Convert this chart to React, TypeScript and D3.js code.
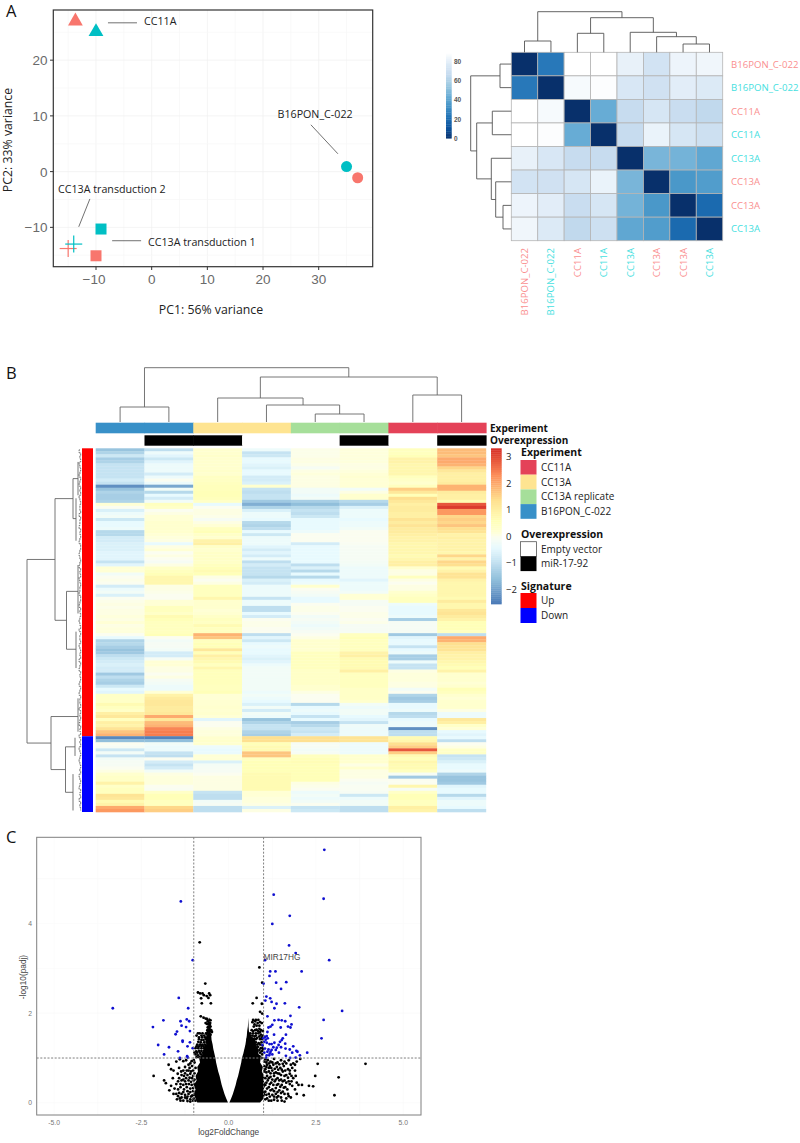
import React from "react";
import * as d3 from "d3";

/* ---------- Panel A: PCA ---------- */
const pcaPoints: [number, number, string, string][] = [
  [-13.7, 27, "triangle", "s"], [-10, 25.1, "triangle", "t"],
  [35, 0.9, "circle", "t"], [37, -1.1, "circle", "s"],
  [-9.1, -10.3, "square", "t"], [-10, -15.1, "square", "s"],
  [-15, -13.8, "plus", "s"], [-14, -13, "plus", "t"],
];
const pcaTicksX = [-10, 0, 10, 20, 30];
const pcaTicksY = [-10, 0, 10, 20];
const pcaNotes: [string, number, number][] = [
  ["CC11A", 144, 25], ["B16PON_C-022", 277.5, 118], ["CC13A transduction 2", 58, 193], ["CC13A transduction 1", 148, 245.5],
];
const pcaLeaders: [number, number, number, number][] = [
  [-7.85, 26.7, -2.64, 26.7], [28.6, 8.4, 33.45, 3.2], [-11.1, -4.9, -13.1, -9.9], [-7.1, -12.4, -1.9, -12.4],
];

/* ---------- Panel A: sample distances ---------- */
const corrLabels = ["B16PON_C-022", "B16PON_C-022", "CC11A", "CC11A", "CC13A", "CC13A", "CC13A", "CC13A"];
const corrRowGroup = ["s", "t", "s", "t", "t", "s", "s", "t"];
const corrMatrix = [
  [0, 25, 90, 90, 82, 73, 84, 85],
  [25, 0, 87, 89, 76, 72, 80, 78],
  [90, 87, 0, 44, 68, 75, 69, 66],
  [90, 89, 44, 0, 68, 83, 75, 71],
  [82, 76, 68, 68, 0, 48, 47, 42],
  [73, 72, 75, 83, 48, 0, 36, 38],
  [84, 80, 69, 75, 47, 36, 0, 20],
  [85, 78, 66, 71, 42, 38, 20, 0],
];
const corrTicks = [0, 20, 40, 60, 80];
const blues = ["#08306b", "#08519c", "#2171b5", "#4292c6", "#6baed6", "#9ecae1", "#c6dbef", "#deebf7", "#ffffff"];
type T = { h: number; kids?: (T | number)[]; from?: number; to?: number; at?: number };
const corrTree: T = { h: 40.6, kids: [{ h: 11.3, kids: [0, 1] }, { h: 34.6, kids: [{ h: 19, kids: [2, 3] }, { h: 20, kids: [4, { h: 15.6, kids: [5, { h: 8.3, kids: [6, 7] }] }] }] }] };

/* ---------- Panel B: heatmap ---------- */
const c0 = [
  -1.5,-1.2,-0.8,-1.3,-1.2,-0.9,-0.9,-0.9,-0.9,-0.9,
  -0.7,-0.9,-2.2,-1.5,-1.2,-1.3,-1.3,-1.2,0.2,0.0,
  -0.6,-0.3,-0.2,-0.8,-0.4,-0.4,-0.3,-1.1,-1.1,-0.7,
  -0.7,-0.6,-0.6,-0.6,-0.5,-0.5,-0.5,-0.9,-0.5,0.2,
  0.2,-0.2,0,0.05,0,-0.7,-0.3,-0.2,-0.6,0,
  0.05,0.1,0.05,0.1,0.1,0.15,0.1,0.2,0.1,0.15,
  0.15,0,-0.4,-1.2,-1.1,-1.3,-1.5,-1.4,-1,-0.8,
  -0.7,-0.6,-0.7,-0.7,-1.4,-1,-1.2,-1.3,-0.8,-0.4,
  -0.5,0.4,0.4,0.4,0.7,0.5,0.4,1,1.2,0.5,
  1,0.9,1.3,1.7,1.9,-2.3,-1.6,0,-0.1,-0.8,
  -0.2,-0.9,-0.2,-0.1,-0.1,0,0.1,0.3,0.4,0.4,
  0.9,0.4,0.5,0.5,1.3,1.2,0.7,0.9,2,2.2,
];
const c1 = [
  -1,-0.3,-0.5,-0.8,-0.5,-0.3,-0.3,-0.3,-0.7,-0.3,
  0,-0.3,-1.9,-0.2,-1.1,-0.4,-0.7,-0.2,0.5,0.4,
  0,0.1,0.2,0.2,0.3,0.3,0.3,0.3,0.2,0.15,
  0.1,-0.4,0.1,0.2,0,0.1,0,-0.1,0.1,0.4,
  0.5,0.6,0.8,0.8,0.8,0.1,0.1,0.05,0,0,
  0.2,0.2,0.5,0.5,0.4,0.7,0.6,0.5,0.5,0.5,
  0.5,0.6,0,-0.2,-0.1,-0.1,-0.2,-0.7,-0.7,-0.1,
  0.2,0.2,0.1,0.1,0,0.1,-0.1,-0.2,-0.3,-0.3,
  0.2,0.9,1.1,1.2,1.2,1.1,1.1,1.2,2,1.2,
  1.8,1.9,2.4,2.5,2.5,-2.4,-1.6,-0.2,-0.3,-0.3,
  -0.9,-1,0,-0.7,-0.9,-0.7,-0.2,0.1,0.15,0.15,
  0.15,0,-0.05,0.4,0.6,0.6,0.5,0.5,1.5,1.6,
];
const c2 = [
  0.3,0.3,0.35,0.3,0.3,0.3,0.3,0.35,0.3,0.45,
  0.45,0.5,0.55,0.55,0.6,0.6,0.55,0.4,-0.4,0,
  0.1,0.1,0.05,-0.1,0.1,0.2,0.5,0.6,0.4,0.3,
  0.9,1,0.4,0.3,0.4,0.4,0.4,0.4,0.5,0.6,
  0.7,0.6,0.1,0,0.1,0.5,0.5,0.5,0.5,0.8,
  0.3,0.3,0.3,0.2,0.25,0.4,0.5,0.45,0.7,0.5,
  0.5,1.9,1.7,0.5,0.6,0.6,1.2,0.6,1,0.8,
  0.7,0.5,0.8,0.55,0.55,0.55,0.55,0.55,0.5,0.5,
  0.6,0.2,0.2,0.25,0.25,0.3,0.25,0.3,0.2,-0.5,
  0,0,0.1,0.15,0.15,0.3,0.35,0.3,-0.3,-0.4,
  -0.35,0.2,0.2,-0.6,-0.15,-0.1,-0.1,0,0.1,0.1,
  0.1,0.1,0.1,-0.9,-1,-1,-0.2,-0.1,-1,-1,
];
const c3 = [
  -0.3,-0.9,-0.8,-0.4,-0.4,-0.5,-0.6,-0.4,-0.4,-0.7,
  -0.7,-0.6,0.3,-0.9,-1,-0.9,-0.9,-1.4,-1.8,-1.2,
  -0.6,-0.3,-0.3,-0.4,-1.1,-1.2,-1,-0.4,-0.8,-0.3,
  -0.3,-0.3,-0.5,-0.7,-0.5,-0.7,-0.3,-1,-0.7,-0.9,
  -0.9,-0.9,-1.1,-0.6,-0.7,-0.3,-0.3,-0.3,-0.3,-0.9,
  -0.3,-0.3,-1,-1,-0.4,-0.7,0,0.05,0.05,0,
  0,-1,-0.5,-0.8,-0.4,-0.3,-0.4,-0.4,-0.5,-0.6,
  -0.5,-0.3,-0.2,-0.2,-0.2,-0.2,-0.2,-0.2,-0.2,-0.2,
  -0.3,-0.2,-0.3,-0.4,-0.6,-0.2,-0.7,-0.2,-0.3,-1.5,
  -1.2,-0.9,-0.9,-1.2,-1.3,1.4,1.4,0.6,0.7,0.7,
  1.7,1.7,0.5,0.6,0.6,0.6,0.6,0.7,0.7,0.7,
  0.7,0.7,0.7,0.2,0.2,0.15,0.15,0.1,-0.6,0.1,
];
const c4 = [
  0.05,0.05,0.05,0.1,0.1,0.05,-0.1,0.1,0.15,0.1,
  0.1,0.1,0.1,-0.2,-0.2,-0.3,-0.2,-1.3,-1.6,-1.1,
  -0.9,-1,-0.8,-0.4,-0.4,-0.4,-0.4,-0.3,0,0,
  0,-0.7,-0.4,-0.4,-0.4,-0.4,-0.4,-0.4,-1,-0.6,
  -1.1,-0.4,-1.1,-0.4,-0.3,0.3,0,-0.1,-0.2,-0.4,
  -0.4,0,0.05,0.05,0,-0.2,-0.1,-0.2,-0.3,-0.2,
  -0.1,0,0.1,0.3,0.3,0.3,0.25,0.5,0.5,0.5,
  0.5,0.5,0.5,0.4,0.4,0.4,0.4,0.4,0.3,0.3,
  0.1,0,0,0,-1.1,-0.4,-0.3,-0.4,-0.9,-0.4,
  -1.3,-1.1,-0.8,-0.9,-0.7,1.4,1.4,-0.1,-0.1,-0.2,
  -0.1,0.5,0.6,0.65,0.6,0.6,0.6,0.6,0.6,0.6,
  0.1,0.05,0,-0.3,-0.2,-0.3,-0.2,0,-0.9,-0.8,
];
const c5 = [
  0.15,0.15,0.15,0.15,0.15,0.1,0.1,0.15,0.2,0.25,
  0.2,0.2,0.2,-0.2,0.1,0.3,0.3,-1.1,-1.3,-0.6,
  -0.3,-0.3,-0.3,-0.4,-0.3,-0.3,-0.2,0,0,0,
  0,-0.05,-0.1,-0.1,-0.1,-0.1,-0.1,-0.15,-0.2,-0.3,
  -0.3,-0.3,-0.3,-0.5,-0.3,-0.3,-0.3,-0.2,0.2,0.2,
  -0.1,-0.1,0,0,0.05,0.05,0,0.05,-0.1,-0.1,
  -0.1,0.5,0.6,0.5,0.5,0.5,0.5,0.9,1,0.7,
  0.7,0.7,0.7,1,0.5,0.5,0.5,0.5,0.5,0.4,
  0.4,0.4,0.4,0.3,-0.2,-0.3,-0.2,-0.2,-0.4,-0.5,
  -0.9,-0.25,-0.3,-0.3,-0.3,1.3,1.3,-0.3,-0.3,-0.3,
  -0.3,0.3,0.3,0.3,0.1,0.3,0.1,0.1,0.1,0,
  -0.1,-0.05,-0.05,-0.1,-0.8,-0.3,-0.2,-0.2,-1,-1,
];
const c6 = [
  0.5,0.5,0.6,0.9,0.9,0.8,0.8,0.8,0.8,0.5,
  0.4,0.3,0.5,1.6,1.2,0.6,1.4,1.2,1,1.1,
  1.1,1,1,1.3,1.1,1.3,1.1,1.1,1,0.9,
  0.9,0.8,0.8,0.8,0.8,0.7,0.8,1,1,0.3,
  0.1,0.1,0.5,0.1,0,0.1,0.1,0.3,0.4,0.5,
  0.5,-0.3,-0.4,-0.4,-0.4,-0.3,-1.3,-0.1,-0.1,-0.1,
  -0.1,-1.4,-0.5,-0.4,-0.4,-0.9,-0.4,-0.3,-1.3,-1.3,
  -0.3,-0.9,-0.9,0.1,0.15,0.15,0.15,0.1,0.1,-0.2,
  0,-1.2,-1.4,-1.3,-0.4,-0.4,-0.3,-1.1,-1,-0.4,
  -0.3,-0.3,-2.2,-1,-1,0.7,0.8,1.4,1.6,2.9,
  1.6,0.7,0.6,0.8,0.7,0.7,0.5,-0.1,-1.4,0,
  0,0.8,-0.1,0.4,0.6,0.6,0.5,0.5,1,0.9,
];
const c7 = [
  1.8,1.8,1.7,2,2,1.9,1.5,1.2,1,1,
  1,1.1,1.9,1.9,1.1,1,1,0.7,2.9,3.2,
  2.2,2.2,1.5,1.6,1.5,1.7,1.4,1.3,0.9,1,
  0.9,0.9,0.9,0.9,0.8,1.5,0.9,1.5,1.4,0.7,
  0.9,1.3,1.3,0.9,0.8,0.8,0.8,0.8,0.8,0.7,
  1.1,0.8,0.8,1.2,1.3,1.1,0.9,0.6,0.6,0.6,
  0.5,-1,2,1.9,1.4,1.3,1.3,1,0.9,0.9,
  0.8,0.7,0.6,0.9,0.3,0.3,0.3,0.2,0.3,0.6,
  0.5,0.3,0.2,0.3,0.3,0.3,0.1,-0.3,-0.3,1.2,
  1,0.4,0.2,-0.4,-0.5,-0.4,-1,0,0.1,0.4,
  0.4,-0.9,-0.8,-0.6,-0.4,-0.4,-0.3,-1.2,-1.5,-1.5,
  -1.4,-0.5,-0.4,-0.4,-1.1,-0.5,-0.3,-0.3,-0.4,-1,
];
const heatColumns = [c0, c1, c2, c3, c4, c5, c6, c7];
const heatExperiment = ["B16PON_C-022", "B16PON_C-022", "CC13A", "CC13A", "CC13A replicate", "CC13A replicate", "CC11A", "CC11A"];
const heatOverexpression = ["Empty vector", "miR-17-92", "miR-17-92", "Empty vector", "Empty vector", "miR-17-92", "Empty vector", "miR-17-92"];
const experimentNames = ["CC11A", "CC13A", "CC13A replicate", "B16PON_C-022"];
const experimentColors = ["#e44258", "#fee491", "#a6df9a", "#3890c8"];
const overNames = ["Empty vector", "miR-17-92"];
const overColors = ["#ffffff", "#000000"];
const signatureNames = ["Up", "Down"];
const signatureColors = ["#ff0000", "#0000ff"];
const signatureRowCounts = [95, 25];
const heatStops = [-2.55, -1.6, -0.9, -0.4, 0, 0.2, 0.6, 1.4, 2.33, 3.32];
const heatColors = ["#4575b4", "#91bfdb", "#c5e3f2", "#e8fafe", "#fbfdf0", "#ffffd5", "#ffffb8", "#fee090", "#fc8d59", "#d73027"];
const heatTicks = [-2, -1, 0, 1, 2, 3];
const colTree: T = { h: 54.3, kids: [{ h: 15, kids: [0, 1] }, { h: 45, kids: [{ h: 24, kids: [2, { h: 17, kids: [3, { h: 8, kids: [4, 5] }] }] }, { h: 27, kids: [6, 7] }] }] };
const rowTree: T = { h: 54, kids: [
  { h: 26, kids: [
    { h: 8, kids: [{ h: 3, from: 4, to: 15, at: 9.5 }, { h: 5, from: 16, to: 30, at: 22.7 }] },
    { h: 14.5, kids: [{ h: 3, from: 38, to: 54, at: 46.7 }, { h: 5, from: 60, to: 72, at: 65.8 }] },
  ] },
  { h: 30, kids: [
    { h: 3, from: 82, to: 93, at: 88 },
    { h: 15.5, kids: [{ h: 6, from: 95, to: 101, at: 98 }, { h: 8, from: 107, to: 119, at: 113 }] },
  ] },
] };
const rowStubs = [
  2,3,1,2,1,3,2,1,2,3,1,2,3,1,2,1,3,2,1,2,
  2,1,3,1,2,2,3,1,2,1,2,3,1,1,2,3,2,1,2,3,
  1,2,1,3,2,1,2,2,3,1,1,2,3,1,2,1,2,3,2,1,
  3,1,2,2,1,3,2,1,2,1,3,1,2,3,1,2,1,2,3,1,
  2,3,1,2,2,1,3,1,2,1,2,3,1,2,1,3,1,2,1,3,
  2,1,2,3,2,1,2,1,3,2,1,2,3,1,2,1,3,1,2,1,
];

/* ---------- Panel C: volcano ---------- */
const blueX = [
  2.74,1.29,2.72,-1.37,1.75,1.25,1.73,1.92,2.88,-1.03,1.04,2.09,1.19,1.34,1.17,1.0,1.36,1.65,1.5,-1.43,1.08,1.19,1.05,1.23,1.37,1.61,-1.16,-3.32,2.02,1.31,3.25,1.11,1.77,2.72,-1.87,-1.2,-1.13,-1.38,1.31,1.43,1.52,1.62,1.8,-2.17,-1.35,-1.22,1.77,1.14,1.2,1.49,1.25,1.7,-1.48,-1.11,-1.52,1.11,1.3,1.64,2.66,-1.32,-1.32,-1.11,-2.02,-1.71,-1.18,-1.03,-1.45,-1.85,-1.4,-1.19,-1.17,
  1.04,1.09,0.99,1.06,1.12,1.02,1.09,1.17,1.23,1.31,0.97,1.47,1.55,1.52,1.62,1.43,1.38,1.85,1.5,1.63,1.75,1.94,1.97,2.25,2.04,1.04,1.14,1.23,1.11,1.18,1.09,1.16,1.25,1.02,1.44,1.64,1.76,1.92,1.07,1.2,1.28,1.35,1.82,
];
const blueY = [
  5.64,4.64,4.55,4.49,4.17,3.99,3.51,3.34,3.18,3.18,3.18,2.93,2.93,2.93,2.83,2.66,2.68,2.69,2.54,2.34,2.37,2.33,2.28,2.25,2.21,2.22,2.11,2.11,2.13,2.11,2.05,1.93,1.94,1.85,1.84,1.86,1.82,1.82,1.84,1.85,1.84,1.82,1.75,1.69,1.72,1.69,1.68,1.68,1.7,1.68,1.74,1.7,1.59,1.6,1.53,1.58,1.52,1.52,1.44,1.39,1.36,1.35,1.29,1.24,1.26,1.22,1.15,1.08,1.0,1.04,1.01,
  1.47,1.49,1.44,1.41,1.44,1.36,1.34,1.31,1.31,1.34,1.29,1.36,1.44,1.4,1.32,1.29,1.23,1.26,1.24,1.21,1.19,1.16,1.14,1.12,1.06,1.21,1.19,1.18,1.14,1.1,1.06,1.06,1.08,1.12,1.12,1.05,1.0,1.01,1.01,1.14,1.24,1.18,1.12,
];
const blackPairs = [
  -0.83,3.58, 0.88,3.02, -0.67,2.66, 0.96,2.68, -0.88,2.46, -0.82,2.44, -0.75,2.44, -0.71,2.4, -0.63,2.38, -0.56,2.44, -0.53,2.4, -0.79,2.33, -0.58,2.34, -0.77,2.22, -0.51,2.22, 0.8,2.34, 0.95,2.21, 0.69,2.22, 0.9,2.03, 0.96,1.99,
  -0.8,1.93, -0.72,1.9, -0.66,1.88, -0.62,1.87, -0.55,1.85, -0.52,1.84, -0.6,1.82, -0.56,1.78, -0.54,1.74, -0.58,1.7, -0.52,1.7, -0.55,1.65, -0.5,1.62, -0.54,1.6, -0.48,1.58, -0.6,1.58, -0.65,1.55, -0.75,1.55, -0.83,1.55, -0.88,1.55, -0.92,1.5, -0.78,1.5, -0.7,1.5, -0.6,1.5, -0.85,1.42, -0.78,1.4, -0.72,1.4, -0.65,1.42, -0.58,1.42, -0.9,1.3, -0.82,1.3, -0.75,1.3, -0.68,1.3, -0.6,1.32, -0.95,1.22, -0.87,1.22, -0.78,1.22, -0.7,1.22, -0.62,1.22, -0.98,1.12, -0.9,1.12, -0.82,1.12, -0.74,1.12, -0.92,1.02, -0.84,1.02, -0.76,1.02, -0.68,1.08,
  -1.0,0.95, -1.1,0.88, -1.22,0.95, -1.3,0.93, -1.4,0.97, -1.5,0.92, -1.72,0.85, -1.65,0.75, -1.58,0.72, -1.42,0.78, -1.25,0.8, -1.2,0.72, -1.12,0.78, -1.05,0.82, -1.35,0.62, -1.28,0.6, -1.18,0.62, -1.1,0.65, -1.02,0.6, -1.42,0.55, -1.6,0.55, -2.15,0.6, -1.85,0.5, -1.8,0.44, -1.45,0.48, -1.35,0.5, -1.25,0.48, -1.15,0.5, -1.08,0.47, -1.0,0.5, -1.65,0.38, -1.55,0.32, -1.45,0.3, -1.38,0.35, -1.28,0.3, -1.2,0.35, -1.1,0.32, -1.02,0.33, -1.7,0.28, -1.35,0.2, -1.25,0.18, -1.15,0.2, -1.05,0.16, -1.4,0.1, -1.3,0.05, -1.2,0.1, -1.1,0.08, -1.0,0.1, -0.95,0.05,
  0.7,1.85, 0.78,1.85, 0.85,1.85, 0.68,1.8, 0.9,1.8, 0.95,1.78, 0.8,1.72, 0.72,1.7, 0.88,1.65, 0.8,1.63, 0.93,1.62, 0.98,1.6, 0.7,1.6, 0.62,1.55, 0.7,1.55, 0.78,1.55, 0.85,1.55, 0.92,1.52, 0.98,1.5, 0.58,1.45, 0.65,1.45, 0.74,1.48, 0.82,1.45, 0.9,1.42, 0.96,1.42, 0.55,1.35, 0.62,1.35, 0.7,1.38, 0.78,1.35, 0.86,1.33, 0.94,1.35, 0.53,1.27, 0.6,1.25, 0.68,1.28, 0.76,1.27, 0.84,1.25, 0.92,1.22, 0.98,1.18, 0.5,1.18, 0.58,1.18, 0.66,1.16, 0.74,1.18, 0.82,1.15, 0.9,1.12, 0.96,1.08, 0.88,1.04, 0.94,1.0, 0.8,1.05,
  1.05,0.97, 1.12,0.95, 1.2,0.92, 1.3,0.98, 1.4,0.9, 1.5,0.95, 1.6,0.92, 1.72,0.95, 1.85,0.88, 1.95,0.92, 2.05,0.98, 1.1,0.85, 1.18,0.82, 1.28,0.85, 1.38,0.8, 1.48,0.78, 1.58,0.82, 1.7,0.75, 1.82,0.78, 1.9,0.72, 1.05,0.75, 1.15,0.7, 1.25,0.72, 1.35,0.68, 1.45,0.65, 1.55,0.7, 1.65,0.62, 1.75,0.65, 1.85,0.55, 1.92,0.6, 1.1,0.6, 1.2,0.58, 1.3,0.6, 1.4,0.55, 1.5,0.52, 1.6,0.5, 1.72,0.48, 1.12,0.5, 1.22,0.45, 1.32,0.48, 1.42,0.42, 1.52,0.4, 1.62,0.35, 1.75,0.42, 1.82,0.38, 1.9,0.3, 2.0,0.4, 1.05,0.4, 1.15,0.35, 1.25,0.3, 1.35,0.33, 1.45,0.28, 1.55,0.25, 1.05,0.25, 1.15,0.2, 1.25,0.18, 1.35,0.2, 1.42,0.15, 1.65,0.1, 1.72,0.15, 1.78,0.12, 1.6,0.03, 1.22,0.05, 1.1,0.1, 2.15,0.17, 1.95,0.2,
  3.92,0.87, 3.15,0.57, 3.03,0.17, 2.55,0.87, 2.48,0.6, 2.3,0.38, 2.42,0.37, 2.1,0.4,
  -0.98,0.9, -1.06,0.93, -1.15,0.85, -0.95,0.78, -1.02,0.72, -1.08,0.7, -0.98,0.66, -1.15,0.72, -1.3,0.72, -1.36,0.7, -1.46,0.65, -1.25,0.66, -0.98,0.52, -1.05,0.55, -1.12,0.56, -1.22,0.55, -1.3,0.52, -1.5,0.42, -1.38,0.42, -1.3,0.4, -1.22,0.42, -1.14,0.42, -1.06,0.4, -0.98,0.42, -1.02,0.26, -1.1,0.24, -1.18,0.26, -1.3,0.24, -1.42,0.22, -1.5,0.2, -1.58,0.2, -1.0,0.18, -1.08,0.14, -1.18,0.14, -1.25,0.12, -1.35,0.12, -1.45,0.15, -1.02,0.05, -1.1,0.03, -1.18,0.04, -1.38,0.05, -1.48,0.08,
  -0.95,1.08, -0.88,1.06, -0.8,1.08, -0.72,1.04, -0.93,1.15, -0.85,1.16, -0.78,1.16, -0.7,1.16, -0.66,1.18, -0.92,1.26, -0.85,1.26, -0.78,1.27, -0.72,1.26, -0.65,1.27, -0.87,1.36, -0.8,1.35, -0.7,1.35, -0.63,1.36, -0.56,1.36, -0.85,1.46, -0.76,1.46, -0.68,1.46, -0.62,1.46, -0.56,1.46, -0.63,1.54, -0.57,1.54, -0.52,1.52, -0.61,1.62, -0.57,1.62, -0.6,1.68, -0.55,1.7, -0.58,1.76, -0.53,1.78, -0.62,1.76, -0.66,1.78,
  0.78,1.42, 0.72,1.42, 0.68,1.42, 0.6,1.4, 0.55,1.42, 0.58,1.32, 0.66,1.32, 0.74,1.32, 0.82,1.3, 0.9,1.3, 0.97,1.28, 0.56,1.22, 0.64,1.22, 0.72,1.22, 0.8,1.2, 0.88,1.18, 0.95,1.15, 0.98,1.22, 0.62,1.5, 0.68,1.5, 0.78,1.5, 0.88,1.48, 0.95,1.46, 0.66,1.62, 0.76,1.62, 0.84,1.6, 0.9,1.58, 0.74,1.75, 0.83,1.78, 0.88,1.72, 0.76,1.82,
  1.02,0.92, 1.08,0.9, 1.16,0.88, 1.25,0.9, 1.35,0.88, 1.45,0.86, 1.55,0.87, 1.65,0.88, 1.78,0.85, 1.9,0.85, 1.02,0.82, 1.08,0.8, 1.15,0.78, 1.22,0.78, 1.32,0.76, 1.42,0.74, 1.52,0.74, 1.62,0.72, 1.75,0.72, 1.02,0.7, 1.08,0.68, 1.2,0.66, 1.3,0.66, 1.4,0.66, 1.5,0.62, 1.6,0.6, 1.7,0.56, 1.8,0.6, 1.05,0.55, 1.15,0.55, 1.25,0.52, 1.35,0.52, 1.45,0.5, 1.55,0.48, 1.65,0.45, 1.8,0.48, 1.95,0.45, 1.08,0.45, 1.18,0.42, 1.28,0.4, 1.38,0.4, 1.48,0.36, 1.58,0.34, 1.68,0.3, 1.1,0.32, 1.2,0.28, 1.3,0.26, 1.4,0.24, 1.5,0.22, 1.6,0.2, 1.7,0.2, 1.08,0.18, 1.18,0.14, 1.3,0.14, 1.38,0.12, 1.5,0.12, 1.05,0.08, 1.15,0.05, 1.3,0.07, 1.4,0.05, 1.52,0.05,
];
/* dense cores of the volcano, read band by band: y, inner x, outer x on each wing */
const coreY = [0.01, 0.1, 0.2, 0.3, 0.4, 0.5, 0.6, 0.7, 0.8, 0.9, 1.0, 1.1, 1.2, 1.3, 1.4, 1.5, 1.6, 1.7, 1.8, 1.9];
const coreLeftInner = [-0.02, -0.07, -0.12, -0.16, -0.2, -0.23, -0.26, -0.3, -0.33, -0.36, -0.38, -0.41, -0.44, -0.46, -0.49, -0.5, -0.52, -0.53, -0.54, -0.55];
const coreLeftOuter = [-0.9, -0.95, -1.0, -0.95, -1.0, -0.92, -0.95, -0.88, -0.9, -0.82, -0.85, -0.74, -0.72, -0.64, -0.66, -0.6, -0.58, -0.57, -0.56, -0.56];
const coreRightInner = [0.02, 0.07, 0.12, 0.16, 0.2, 0.23, 0.27, 0.3, 0.33, 0.36, 0.38, 0.42, 0.45, 0.48, 0.5, 0.52, 0.53, 0.55, 0.56, 0.57];
const coreRightOuter = [0.9, 1.0, 1.05, 1.0, 1.06, 1.0, 1.02, 0.95, 0.98, 0.9, 0.92, 0.85, 0.84, 0.78, 0.76, 0.62, 0.58, 0.57, 0.57, 0.57];
const volTicksX = [-5, -2.5, 0, 2.5, 5];
const volTicksY = [0, 2, 4];
const volThresholds = { fc: [-1, 1], padj: [1] };

/* ---------- helpers ---------- */
function treePath(root: T, pos: (i: number) => number, seg: (h: number, p: number, h2: number, p2: number, c: d3.Path) => void) {
  const c = d3.path();
  const walk = (n: T | number): [number, number] => {
    if (typeof n === "number") return [pos(n), 0];
    if (n.kids) {
      const res = n.kids.map(walk);
      const ps = res.map((r) => r[0]);
      seg(n.h, ps[0], n.h, ps[ps.length - 1], c);
      res.forEach((r) => seg(n.h, r[0], r[1], r[0], c));
      return [d3.mean(ps) as number, n.h];
    }
    seg(n.h, pos(n.from as number), n.h, pos(n.to as number), c);
    return [pos(n.at as number), n.h];
  };
  walk(root);
  return c.toString();
}

const note = "'Open Sans', sans-serif";
const sansAxis = "'Liberation Sans', Arial, sans-serif";
const salmon = "#f8766d";
const teal = "#00bfc4";
const labelColor: Record<string, string> = { s: "#fa8f8f", t: "#45e0e0" };

export default function App() {
  /* PCA */
  const px = d3.scaleLinear().domain([-17.67, 39.7]).range([53.3, 372.7]);
  const py = d3.scaleLinear().domain([-17.06, 29]).range([266.7, 10]);
  const sym = (t: string) =>
    t === "triangle"
      ? d3.symbol(d3.symbolTriangle, 95)()
      : t === "circle"
      ? d3.symbol(d3.symbolCircle, 95)()
      : d3.symbol(d3.symbolSquare, 121)();

  /* correlation */
  const cx = d3.scaleBand<number>().domain(d3.range(8)).range([511.3, 722.7]);
  const cy = d3.scaleBand<number>().domain(d3.range(8)).range([52.3, 240.7]);
  const cColor = d3.scaleLinear<string>().domain(blues.map((_, i) => (i * 90) / 8)).range(blues);
  const cbar = d3.scaleLinear().domain([0, 90]).range([138.3, 52]);
  const corrTop = treePath(corrTree, (i) => (cx(i) as number) + cx.bandwidth() / 2, (h, p, h2, p2, c) => {
    c.moveTo(p, 52.3 - h); c.lineTo(p2, 52.3 - h2);
  });
  const corrLeft = treePath(corrTree, (i) => (cy(i) as number) + cy.bandwidth() / 2, (h, p, h2, p2, c) => {
    c.moveTo(511.3 - h, p); c.lineTo(511.3 - h2, p2);
  });

  /* heatmap */
  const hx = d3.scaleBand<number>().domain(d3.range(8)).range([95.7, 486]);
  const hy = d3.scaleBand<number>().domain(d3.range(120)).range([448.3, 812]);
  const hColor = d3.scaleLinear<string>().domain(heatStops).range(heatColors);
  const hBar = d3.scaleLinear().domain([3, -2]).range([456.7, 589.3]);
  const expColor = d3.scaleOrdinal<string, string>().domain(experimentNames).range(experimentColors);
  const ovColor = d3.scaleOrdinal<string, string>().domain(overNames).range(overColors);
  const colPath = treePath(colTree, (i) => (hx(i) as number) + hx.bandwidth() / 2, (h, p, h2, p2, c) => {
    c.moveTo(p, 422 - h); c.lineTo(p2, 422 - h2);
  });
  const rowMid = (r: number) => (hy(0) as number) + (r + 0.5) * hy.step();
  const rowPath = treePath(rowTree, (i) => rowMid(i), (h, p, h2, p2, c) => {
    c.moveTo(81 - h, p); c.lineTo(81 - h2, p2);
  });
  const stubLine = d3.line<number>().x((d) => 81.5 - d * 0.8).y((_, i) => rowMid(i)).curve(d3.curveStepAfter)(rowStubs) as string;

  /* volcano */
  const vx = d3.scaleLinear().domain([-5.5, 5.51]).range([36.7, 421]);
  const vy = d3.scaleLinear().domain([-0.27, 5.92]).range([1115, 837.3]);
  const wing = (inner: number[], outer: number[]) =>
    d3.area<number>().y((d) => vy(d)).x0((_, i) => vx(inner[i])).x1((_, i) => vx(outer[i]))(coreY) as string;
  const blackPts = d3.range(blackPairs.length / 2).map((i) => [blackPairs[2 * i], blackPairs[2 * i + 1]]);
  const bluePts = blueX.map((x, i) => [x, blueY[i]]);

  /* legend layout */
  const lg = (names: string[], colors: string[], y0: number, h: number) =>
    names.map((n, i) => (
      <g key={n}>
        <rect x={520.5} y={y0 + i * h} width={16} height={h} fill={colors[i]} stroke={colors[i] === "#ffffff" ? "#555" : "none"} strokeWidth={0.8} />
        <text x={541} y={y0 + i * h + h / 2 + 3.5} fontSize={10} fontFamily={note} fill="#222">{n}</text>
      </g>
    ));

  return (
    <svg width={800} height={1143} viewBox="0 0 800 1143" style={{ position: "absolute", left: 0, top: 0, background: "#fff" }}>
      <defs>
        <filter id="vblur" x="-2%" y="-2%" width="104%" height="104%"><feGaussianBlur stdDeviation="0.15 0.55" /></filter>
        <filter id="soft" x="-2%" y="-2%" width="104%" height="104%"><feGaussianBlur stdDeviation="0.35" /></filter>
      </defs>

      {/* panel letters */}
      {([["A", 17], ["B", 379], ["C", 843]] as [string, number][]).map(([l, y]) => (
        <text key={l} x={6} y={y} fontSize={16.5} fontFamily={note} fill="#111">{l}</text>
      ))}

      {/* PCA */}
      <g>
        {d3.range(-15, 40, 5).map((v) => (
          <line key={"gx" + v} x1={px(v)} x2={px(v)} y1={10} y2={266.7} stroke={v % 10 === 0 ? "#efefef" : "#f7f7f7"} strokeWidth={0.7} />
        ))}
        {d3.range(-15, 30, 5).map((v) => (
          <line key={"gy" + v} y1={py(v)} y2={py(v)} x1={53.3} x2={372.7} stroke={v % 10 === 0 ? "#efefef" : "#f7f7f7"} strokeWidth={0.7} />
        ))}
        {pcaPoints.map(([x, y, shape, g], i) =>
          shape === "plus" ? (
            <g key={i} stroke={g === "s" ? salmon : teal} strokeWidth={1.2}>
              <line x1={px(x) - 8.5} x2={px(x) + 8.5} y1={py(y)} y2={py(y)} />
              <line x1={px(x)} x2={px(x)} y1={py(y) - 8.5} y2={py(y) + 8.5} />
            </g>
          ) : (
            <path key={i} d={sym(shape) as string} transform={`translate(${px(x)},${py(y)})`} fill={g === "s" ? salmon : teal} />
          )
        )}
        <rect x={53.3} y={10} width={319.4} height={256.7} fill="none" stroke="#333" strokeWidth={1.2} />
        {pcaTicksX.map((v) => (
          <g key={v}>
            <line x1={px(v)} x2={px(v)} y1={266.7} y2={270} stroke="#333" />
            <text x={px(v) - (v < 0 ? 2 : 0)} y={284} textAnchor="middle" fontSize={13.5} fontFamily={sansAxis} fill="#6a6a6a">{v < 0 ? "\u2212" + -v : v}</text>
          </g>
        ))}
        {pcaTicksY.map((v) => (
          <g key={v}>
            <line x1={50} x2={53.3} y1={py(v)} y2={py(v)} stroke="#333" />
            <text x={47.5} y={py(v) + 5} textAnchor="end" fontSize={13.5} fontFamily={sansAxis} fill="#6a6a6a">{v < 0 ? "\u2212" + -v : v}</text>
          </g>
        ))}
        <text x={211} y={314} textAnchor="middle" fontSize={12.3} fontFamily={note} fill="#222">PC1: 56% variance</text>
        <text transform="translate(12,140) rotate(-90)" textAnchor="middle" fontSize={12.3} fontFamily={note} fill="#222">PC2: 33% variance</text>
        {pcaNotes.map(([t, x, y]) => (
          <text key={t} x={x} y={y} fontSize={10.7} fontFamily={note} fill="#222">{t}</text>
        ))}
        {pcaLeaders.map(([a, b, c, d], i) => (
          <line key={i} x1={px(a)} y1={py(b)} x2={px(c)} y2={py(d)} stroke="#333" strokeWidth={0.7} />
        ))}
      </g>

      {/* distance heatmap */}
      <g>
        <g filter="url(#soft)">
          {d3.range(50).map((i) => (
            <rect key={i} x={446} width={5.7} y={cbar(90 - (i * 90) / 50)} height={2} fill={cColor(90 - (i * 90) / 50)} />
          ))}
        </g>
        {corrTicks.map((v) => (
          <text key={v} x={454} y={cbar(v) + 2.5} fontSize={6.5} fontFamily={sansAxis} fontWeight="bold" fill="#555">{v}</text>
        ))}
        {corrMatrix.map((row, r) =>
          row.map((v, c) => (
            <rect key={`${r}-${c}`} x={cx(c)} y={cy(r)} width={cx.bandwidth()} height={cy.bandwidth()} fill={cColor(v)} stroke="#b5b5b5" strokeWidth={0.8} />
          ))
        )}
        <path d={corrTop} fill="none" stroke="#555" strokeWidth={0.9} />
        <path d={corrLeft} fill="none" stroke="#555" strokeWidth={0.9} />
        {corrLabels.map((t, i) => (
          <text key={"rl" + i} x={731} y={(cy(i) as number) + cy.bandwidth() / 2 + 3.5} fontSize={9.6} fontFamily={note} fill={labelColor[corrRowGroup[i]]}>{t}</text>
        ))}
        {corrLabels.map((t, i) => (
          <text key={"cl" + i} transform={`translate(${(cx(i) as number) + cx.bandwidth() / 2 + 3.5},248) rotate(-90)`} textAnchor="end" fontSize={9.6} fontFamily={note} fill={labelColor[corrRowGroup[i]]}>{t}</text>
        ))}
      </g>

      {/* gene heatmap */}
      <g>
        <path d={colPath} fill="none" stroke="#666" strokeWidth={0.9} />
        <path d={rowPath} fill="none" stroke="#666" strokeWidth={0.9} />
        <path d={stubLine} fill="none" stroke="#555" strokeWidth={0.8} strokeDasharray="2.2 0.8" />
        {heatExperiment.map((e, i) => (
          <rect key={"e" + i} x={hx(i)} y={422.7} width={hx.bandwidth() + 0.6} height={10.6} fill={expColor(e)} />
        ))}
        {heatOverexpression.map((e, i) => (
          <rect key={"o" + i} x={hx(i)} y={435.3} width={hx.bandwidth() + (e === "miR-17-92" ? 0.6 : 0)} height={10.4} fill={ovColor(e)} />
        ))}
        <rect x={82} y={448.3} width={11} height={hy.step() * signatureRowCounts[0]} fill={signatureColors[0]} />
        <rect x={82} y={448.3 + hy.step() * signatureRowCounts[0]} width={11} height={hy.step() * signatureRowCounts[1]} fill={signatureColors[1]} />
        <g filter="url(#vblur)">
          {heatColumns.map((col, c) =>
            col.map((v, r) => (
              <rect key={`${c}-${r}`} x={hx(c)} y={hy(r)} width={hx.bandwidth() + 0.2} height={hy.step() + 0.3} fill={hColor(v)} />
            ))
          )}
        </g>
        <text x={490} y={431.5} fontSize={10} fontWeight="bold" fontFamily={note} fill="#111">Experiment</text>
        <text x={490} y={444} fontSize={10} fontWeight="bold" fontFamily={note} fill="#111">Overexpression</text>
        {d3.range(80).map((i) => {
          const y0 = 448.3 + (i * (604 - 448.3)) / 80;
          return <rect key={"hb" + i} x={491} y={y0} width={10.7} height={2.3} fill={hColor(hBar.invert(y0))} />;
        })}
        {heatTicks.map((t) => (
          <text key={t} x={506} y={hBar(t) + 3.5} fontSize={9.5} fontFamily={note} fill="#222">{t < 0 ? "\u2212" + -t : t}</text>
        ))}
        <text x={521} y={456} fontSize={10.5} fontWeight="bold" fontFamily={note} fill="#111">Experiment</text>
        {lg(experimentNames, experimentColors, 460, 14.7)}
        <text x={521} y={537.5} fontSize={10.5} fontWeight="bold" fontFamily={note} fill="#111">Overexpression</text>
        {lg(overNames, overColors, 541.7, 14.7)}
        <text x={521} y={589.5} fontSize={10.5} fontWeight="bold" fontFamily={note} fill="#111">Signature</text>
        {lg(signatureNames, signatureColors, 593, 15)}
      </g>

      {/* volcano */}
      <g>
        {d3.range(-5, 5.1, 1.25).map((v) => (
          <line key={"vg" + v} x1={vx(v)} x2={vx(v)} y1={837.3} y2={1115} stroke="#f8f8f8" strokeWidth={0.6} />
        ))}
        {d3.range(0, 6, 1).map((v) => (
          <line key={"vh" + v} y1={vy(v)} y2={vy(v)} x1={36.7} x2={421} stroke="#f8f8f8" strokeWidth={0.6} />
        ))}
        <path d={wing(coreLeftInner, coreLeftOuter)} fill="#000" />
        <path d={wing(coreRightInner, coreRightOuter)} fill="#000" />
        {blackPts.map(([x, y], i) => (
          <circle key={"k" + i} cx={vx(x)} cy={vy(y)} r={1.4} fill="#000" />
        ))}
        {bluePts.map(([x, y], i) => (
          <circle key={"b" + i} cx={vx(x)} cy={vy(y)} r={1.4} fill="#0f0fd0" />
        ))}
        {volThresholds.fc.map((v) => (
          <line key={v} x1={vx(v)} x2={vx(v)} y1={837.3} y2={1115} stroke="#808080" strokeWidth={1} strokeDasharray="2 1.6" />
        ))}
        {volThresholds.padj.map((v) => (
          <line key={v} y1={vy(v)} y2={vy(v)} x1={36.7} x2={421} stroke="#808080" strokeWidth={1} strokeDasharray="2 1.6" />
        ))}
        <rect x={36.7} y={837.3} width={384.3} height={277.7} fill="none" stroke="#7f7f7f" strokeWidth={1} />
        {volTicksX.map((v) => (
          <text key={v} x={vx(v)} y={1125} textAnchor="middle" fontSize={6.8} fontFamily={sansAxis} fill="#777">{v.toFixed(1)}</text>
        ))}
        {volTicksY.map((v) => (
          <text key={v} x={32} y={vy(v) + 2.5} textAnchor="end" fontSize={6.8} fontFamily={sansAxis} fill="#777">{v}</text>
        ))}
        <text x={228.7} y={1135} textAnchor="middle" fontSize={8.3} fontFamily={sansAxis} fill="#444">log2FoldChange</text>
        <text transform="translate(25.5,977) rotate(-90)" textAnchor="middle" fontSize={8.3} fontFamily={sansAxis} fill="#444">-log10(padj)</text>
        <text x={282} y={960} textAnchor="middle" fontSize={8.3} fontFamily={sansAxis} fill="#444">MIR17HG</text>
      </g>
    </svg>
  );
}
